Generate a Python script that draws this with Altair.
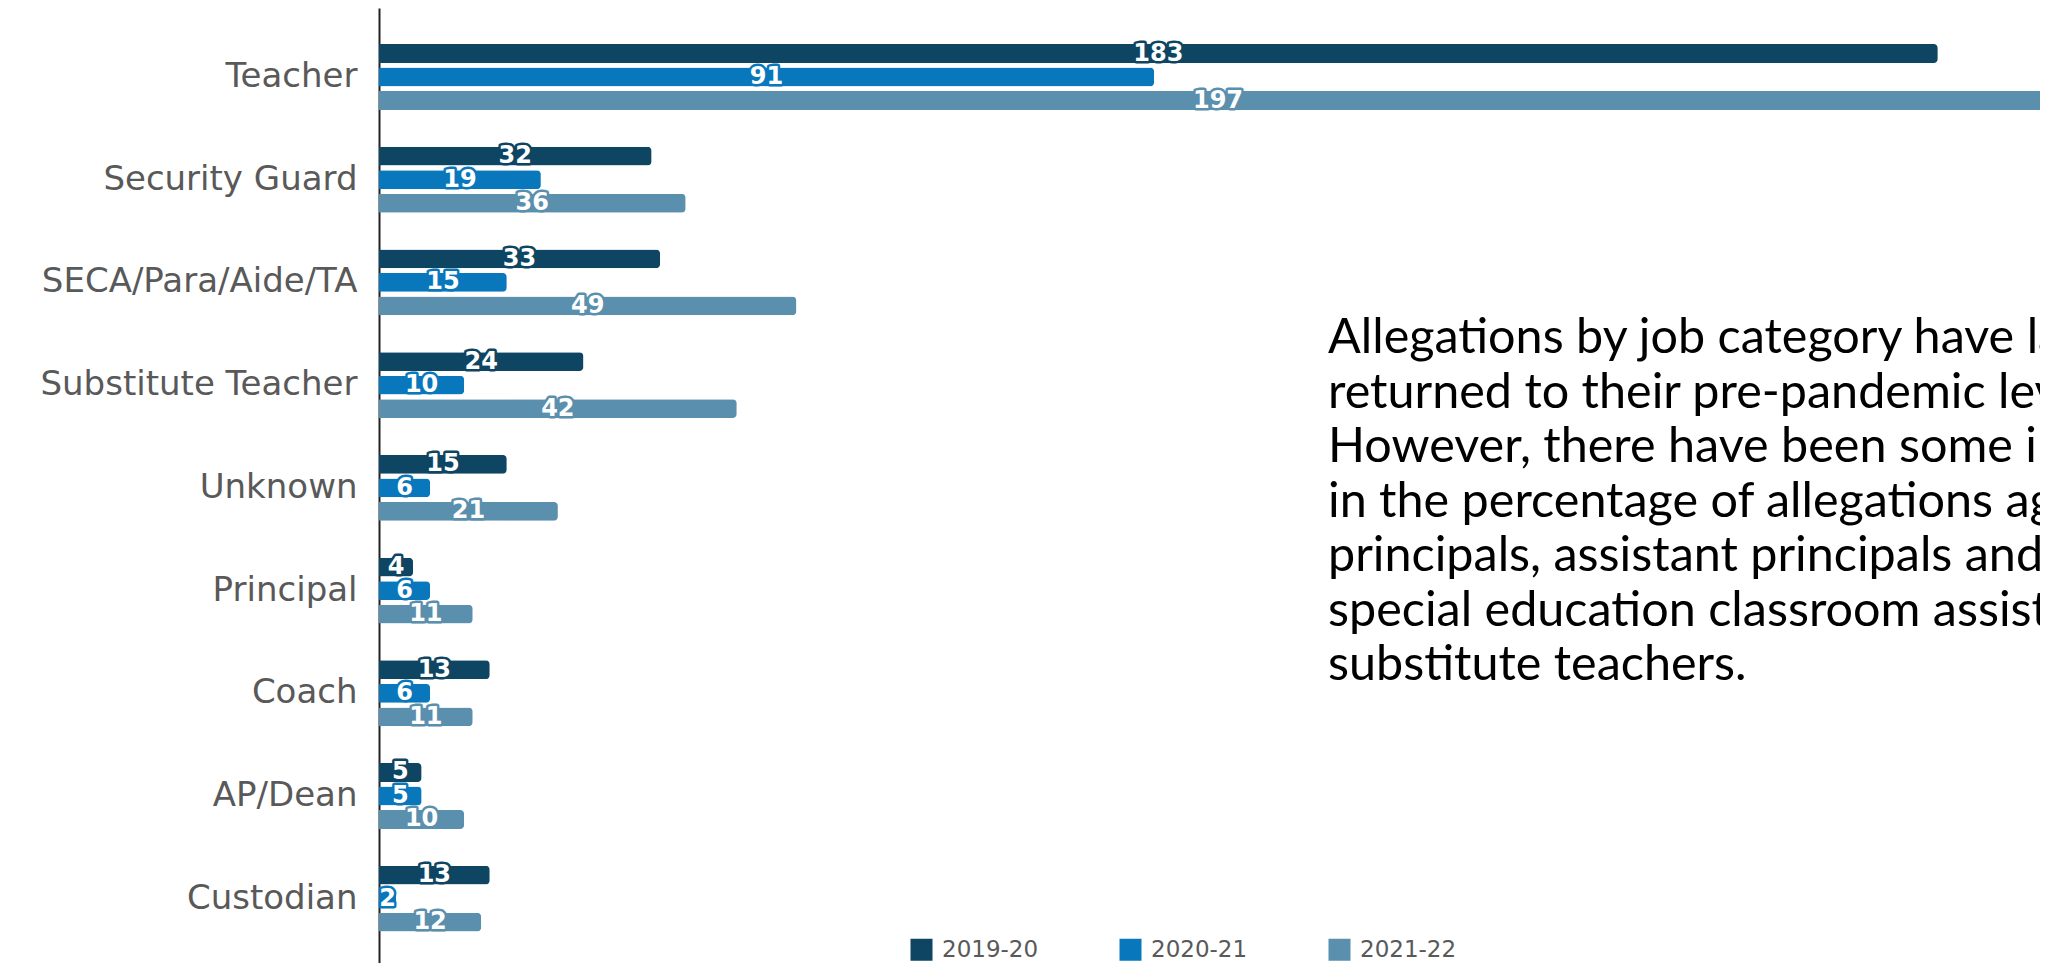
import altair as alt
import pandas as pd

categories = ["Teacher", "Security Guard", "SECA/Para/Aide/TA", "Substitute Teacher",
              "Unknown", "Principal", "Coach", "AP/Dean", "Custodian"]
years = ["2019-20", "2020-21", "2021-22"]
vals_2019_20 = [183, 32, 33, 24, 15, 4, 13, 5, 13]
vals_2020_21 = [91, 19, 15, 10, 6, 6, 6, 5, 2]
vals_2021_22 = [197, 36, 49, 42, 21, 11, 11, 10, 12]
colors = ["#0d4562", "#0877bc", "#5b8fae"]

note_lines = [
    "Allegations by job category have largely",
    "returned to their pre-pandemic levels.",
    "However, there have been some increases",
    "in the percentage of allegations against",
    "principals, assistant principals and",
    "special education classroom assistants and",
    "substitute teachers.",
]

rows = []
for yr, series in zip(years, [vals_2019_20, vals_2020_21, vals_2021_22]):
    for c, v in zip(categories, series):
        rows.append({"Category": c, "Year": yr, "Value": v})
df = pd.DataFrame(rows)

H = 955
yscale = alt.Scale(domain=categories, paddingInner=0, paddingOuter=0.149, align=0.577)
yoff_scale = alt.Scale(domain=years, paddingInner=0.2, paddingOuter=0.785)
xscale = alt.Scale(domain=[0, 195], nice=False, zero=True)
cscale = alt.Scale(domain=years, range=colors)

base = alt.Chart(df)

y_enc = alt.Y("Category:N", sort=categories, scale=yscale,
              axis=alt.Axis(title=None, domain=True, domainColor="#222222", domainWidth=2,
                            ticks=False, tickSize=0, grid=False, labelFontSize=34,
                            labelFont="DejaVu Sans", labelColor="#595959", labelPadding=22,
                            labelLimit=0))
yoff_enc = alt.YOffset("Year:N", sort=years, scale=yoff_scale)

bars = base.mark_bar(cornerRadiusEnd=4).encode(
    x=alt.X("Value:Q", scale=xscale, axis=None),
    y=y_enc,
    yOffset=yoff_enc,
    color=alt.Color("Year:N", sort=years, scale=cscale,
                    legend=alt.Legend(orient="none", legendX=531, legendY=930,
                                      direction="horizontal", title=None,
                                      symbolType="square", symbolSize=484,
                                      symbolStrokeWidth=0, labelFontSize=23,
                                      labelFont="DejaVu Sans", labelColor="#595959",
                                      labelOffset=9, columnPadding=80)),
)

halo = base.transform_calculate(mid="datum.Value / 2").mark_text(
    font="DejaVu Sans", fontWeight="bold", fontSize=24, fill="white",
    strokeWidth=5, strokeJoin="round", baseline="middle", align="center"
).encode(
    x=alt.X("mid:Q", scale=xscale, axis=None),
    y=alt.Y("Category:N", sort=categories, scale=yscale),
    yOffset=yoff_enc,
    stroke=alt.Stroke("Year:N", sort=years, scale=cscale, legend=None),
    text=alt.Text("Value:Q"),
)

labels = base.transform_calculate(mid="datum.Value / 2").mark_text(
    font="DejaVu Sans", fontWeight="bold", fontSize=24, color="white",
    baseline="middle", align="center"
).encode(
    x=alt.X("mid:Q", scale=xscale, axis=None),
    y=alt.Y("Category:N", sort=categories, scale=yscale),
    yOffset=yoff_enc,
    text=alt.Text("Value:Q"),
)

note = alt.Chart(pd.DataFrame({"t": ["\n".join(note_lines)]})).mark_text(
    font="Lato", fontSize=48.5, color="black", align="left", baseline="alphabetic",
    lineBreak="\n", lineHeight=54.5
).encode(
    x=alt.value(949),
    y=alt.value(345),
    text="t:N",
)

chart = alt.layer(bars, halo, labels, note).properties(
    width=1661, height=H,
    background="white",
    autosize=alt.AutoSizeParams(type="none"),
    padding={"left": 371, "top": 0, "right": 0, "bottom": 0},
).configure_view(stroke=None)

chart.save("out.html", embed_options={"renderer": "svg", "actions": False})
